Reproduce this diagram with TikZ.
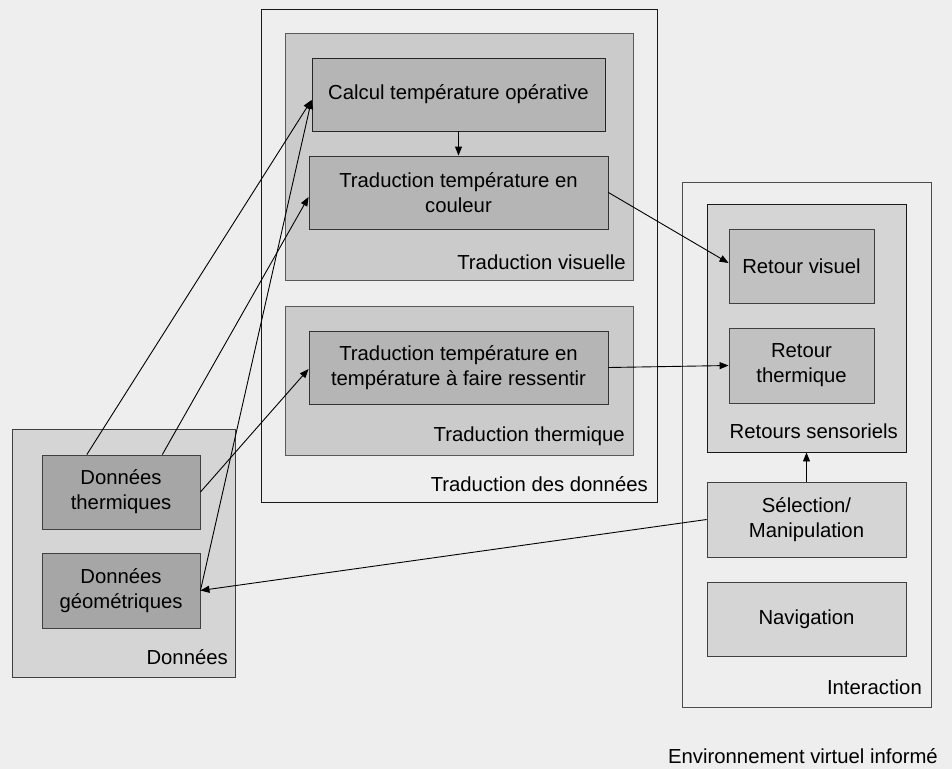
\documentclass[tikz,border=0pt]{standalone}
\usepackage{fontspec}
\setmainfont{Liberation Sans}
\usetikzlibrary{arrows.meta,calc}
\definecolor{bg}{HTML}{EEEEEE}
\definecolor{mid}{HTML}{CBCBCB}
\definecolor{dark}{HTML}{B5B5B5}
\definecolor{light}{HTML}{D5D5D5}
\definecolor{darker}{HTML}{A6A6A6}
\definecolor{rvfill}{HTML}{C1C1C1}
\tikzset{
  box/.style={draw, line width=0.9pt, inner sep=0pt, align=center,
    font=\fontsize{20.3}{25}\selectfont},
  lbl/.style={inner sep=0pt, font=\fontsize{20.3}{25}\selectfont, anchor=base east},
  conn/.style={line width=0.9pt, -{Triangle[length=9pt,width=7pt]}},
}
% helper: box from corner coordinates
\newcommand{\mybox}[7]{% name, x1,y1,x2,y2, style, text
  \node[box,#6,minimum width={(#4-#2)*1pt},minimum height={(#5-#3)*1pt}] (#1) at ({(#2+#4)/2},{(#3+#5)/2}) {#7};}
\begin{document}
\begin{tikzpicture}[x=1pt,y=-1pt]
\fill[bg] (0,0) rectangle (952,769);
\useasboundingbox (0,0) rectangle (952,769);
% Traduction des donnees
\mybox{tdd}{261}{9}{657}{502}{fill=bg,draw=black!90}{}
\mybox{tv}{285}{33}{633}{280}{fill=mid,draw=black!65}{}
\mybox{calc}{312}{58}{605}{131}{fill=dark,draw=black!85}{Calcul température opérative}
\mybox{coul}{309}{156}{608}{229}{fill=dark,draw=black!80}{Traduction température en\\couleur}
\mybox{tt}{285}{306}{633}{455}{fill=mid,draw=black!65}{}
\mybox{tth}{309}{331}{608}{404}{fill=dark,draw=black!80}{Traduction température en\\température à faire ressentir}
\node[lbl] (ltv) at (626,269) {Traduction visuelle};
\node[lbl] (ltt) at (625,441) {Traduction thermique};
\node[lbl] (ltdd) at (648,491) {Traduction des données};
% Donnees
\mybox{don}{12}{429}{235}{677}{fill=light,draw=black!75}{}
\mybox{dth}{42}{455}{200}{529}{fill=darker,draw=black!75}{Données\\thermiques}
\mybox{dgeo}{42}{553}{200}{628}{fill=darker,draw=black!75}{Données\\géométriques}
\node[lbl] (ldon) at (228,664) {Données};
% Interaction
\mybox{inter}{682}{182}{931}{707}{fill=bg,draw=black!70}{}
\mybox{rs}{707}{204}{906}{452}{fill=light,draw=black!90}{}
\mybox{rv}{729}{229}{874}{303}{fill=rvfill,draw=black!75}{Retour visuel}
\mybox{rt}{729}{328}{874}{403}{fill=rvfill,draw=black!75}{Retour\\thermique}
\mybox{sel}{707}{482}{906}{557}{fill=light,draw=black!75}{Sélection/\\Manipulation}
\mybox{nav}{707}{582}{906}{656}{fill=light,draw=black!75}{Navigation}
\node[lbl] (lrs) at (898,438) {Retours sensoriels};
\node[lbl] (linter) at (922,694) {Interaction};
\node[lbl] (lenv) at (938,763) {Environnement virtuel informé};
% connectors
\draw[conn] (calc.south) -- (coul.north);
\draw[conn] ($(dth.north west)!0.285!(dth.north east)$) -- ([yshift=-5.5pt]calc.west);
\draw[conn] ($(dth.north west)!0.76!(dth.north east)$) -- ([yshift=-4.5pt]coul.west);
\draw[conn] (dth.east) -- ([yshift=-1.5pt]tth.west);
\draw[conn] (dgeo.east) -- ([yshift=-5.5pt]calc.west);
\draw[conn] (sel.west) -- (dgeo.east);
\draw[conn] (coul.east) -- ([yshift=3pt]rv.west);
\draw[conn] (tth.east) -- (rt.west);
\draw[conn] (sel.north) -- (rs.south);
\end{tikzpicture}
\end{document}
